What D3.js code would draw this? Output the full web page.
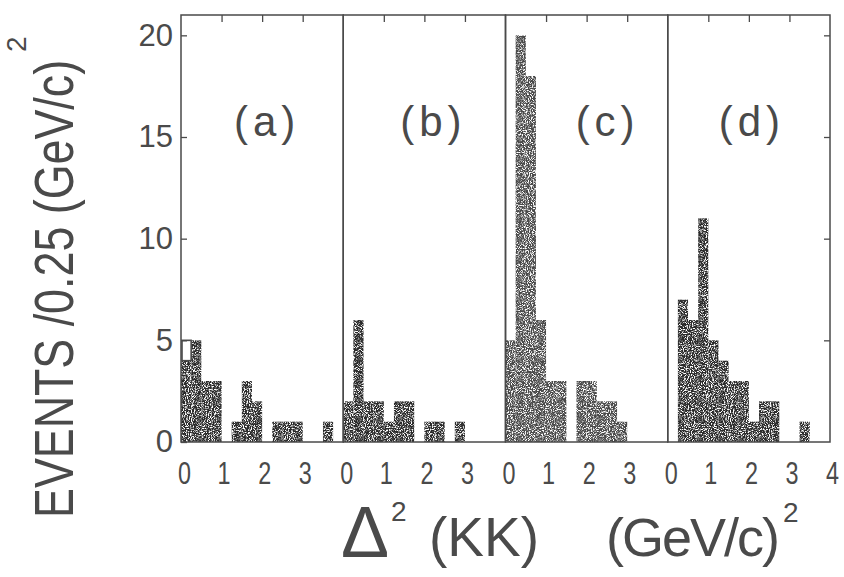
<!DOCTYPE html>
<html>
<head>
<meta charset="utf-8">
<script src="https://cdn.jsdelivr.net/npm/d3@7"></script>
<style>
  body { margin: 0; background: #fff; }
  svg { display: block; }
  text { font-family: "Liberation Sans", Arial, sans-serif; fill: #4a4a4a; }
</style>
</head>
<body>
<svg id="chart" width="844" height="577"></svg>
<script>
// -------------- DATA ----------------- //
// events per 0.25 (GeV/c)^2 bin, starting at 0
const panels = ["(a)", "(b)", "(c)", "(d)"];
const binWidth = 0.25;
const countsA = [4, 5, 3, 3, 0, 1, 3, 2, 0, 1, 1, 1, 0, 0, 1];
const countsB = [2, 6, 2, 2, 1, 2, 2, 0, 1, 1, 0, 1];
const countsC = [5, 20, 18, 6, 3, 3, 0, 3, 3, 2, 2, 1];
const countsD = [0, 7, 6, 11, 5, 4, 3, 3, 1, 2, 2, 0, 0, 1];
const openA = [1];  // unshaded entry drawn on top of the first bin of (a)
const yTicks = [0, 5, 10, 15, 20];
const xLabels = [[0, 1, 2, 3], [0, 1, 2, 3], [0, 1, 2, 3], [0, 1, 2, 3, 4]];

const allCounts = [countsA, countsB, countsC, countsD];
const allOpen = [openA, [], [], []];

// -------------- LAYOUT ----------------- //
const FRAME = { left: 181, right: 830, top: 15, bottom: 442 };
const labelShift = [5, 9, 21, 3];  // panel letters are not centred in the original
const INK = "#4a4a4a";

const svg = d3.select("#chart");

// stipple look of the printed shading
const defs = svg.append("defs");
const grain = defs.append("filter").attr("id", "grain");
grain.append("feTurbulence")
    .attr("type", "fractalNoise")
    .attr("baseFrequency", 0.95)
    .attr("numOctaves", 2)
    .attr("seed", 4)
    .attr("result", "noise");
grain.append("feColorMatrix")
    .attr("in", "noise")
    .attr("type", "matrix")
    .attr("values", "0 0 0 0 0  0 0 0 0 0  0 0 0 0 0  4.5 0 0 0 -1.45")
    .attr("result", "mask");
grain.append("feComposite")
    .attr("in", "SourceGraphic")
    .attr("in2", "mask")
    .attr("operator", "in");

const band = d3.scaleBand()
    .domain(panels)
    .range([FRAME.left, FRAME.right]);

const y = d3.scaleLinear()
    .domain([0, 21])
    .range([FRAME.bottom, FRAME.top]);

// -------------- PANELS ----------------- //
panels.forEach((name, p) => {
    const x0 = band(name);
    const x = d3.scaleLinear()
        .domain([0, 4])
        .range([x0, x0 + band.bandwidth()]);

    const bins = allCounts[p].map((v, i) => ({ lo: i * binWidth, hi: (i + 1) * binWidth, v }));

    svg.append("g")
        .attr("filter", "url(#grain)")
        .selectAll("rect")
        .data(bins.filter(d => d.v > 0))
        .join("rect")
        .attr("x", d => x(d.lo))
        .attr("width", d => x(d.hi) - x(d.lo))
        .attr("y", d => y(d.v))
        .attr("height", d => y(0) - y(d.v))
        .attr("fill", p == 2 ? "#4a4a4a" : "#2a2a2a");

    // open (unshaded) boxes
    svg.append("g")
        .selectAll("rect")
        .data(allOpen[p].map((v, i) => ({ lo: i * binWidth, hi: (i + 1) * binWidth, base: allCounts[p][i], v })).filter(d => d.v > 0))
        .join("rect")
        .attr("x", d => x(d.lo) + 1)
        .attr("width", d => x(d.hi) - x(d.lo) - 1)
        .attr("y", d => y(d.base + d.v))
        .attr("height", d => y(d.base) - y(d.base + d.v))
        .attr("fill", "none")
        .attr("stroke", INK)
        .attr("stroke-width", 1.6);

    // top ticks at integer values
    svg.append("g")
        .attr("transform", `translate(0,${FRAME.top})`)
        .call(d3.axisTop(x).tickValues([1, 2, 3]).tickSize(-7).tickFormat(""))
        .call(g => g.select(".domain").remove())
        .call(g => g.selectAll("line").attr("stroke", INK).attr("stroke-width", 1.3));

    // bottom labels (narrow hand-lettered digits)
    svg.append("g")
        .attr("transform", `translate(0,${FRAME.bottom})`)
        .call(d3.axisBottom(x).tickValues(xLabels[p]).tickSize(0).tickPadding(19).tickFormat(d3.format("d")))
        .call(g => g.select(".domain").remove())
        .call(g => g.selectAll("text")
            .attr("font-size", 32)
            .attr("fill", INK)
            .attr("textLength", 13)
            .attr("lengthAdjust", "spacingAndGlyphs")
            .attr("dx", d => (d == 0 ? 3 : 2)));

    svg.append("text")
        .attr("x", x0 + band.bandwidth() / 2 + labelShift[p])
        .attr("y", 136)
        .attr("text-anchor", "middle")
        .attr("font-size", 42)
        .attr("letter-spacing", 5)
        .text(name);

    // frame of this panel
    svg.append("rect")
        .attr("x", x0)
        .attr("y", FRAME.top)
        .attr("width", band.bandwidth())
        .attr("height", FRAME.bottom - FRAME.top)
        .attr("fill", "none")
        .attr("stroke", INK)
        .attr("stroke-width", 1.5);
});

// -------------- Y AXES ----------------- //
svg.append("g")
    .attr("transform", `translate(${FRAME.left},0)`)
    .call(d3.axisLeft(y).tickValues(yTicks).tickSize(-6).tickPadding(8))
    .call(g => g.select(".domain").remove())
    .call(g => g.selectAll("line").attr("stroke", INK).attr("stroke-width", 1.3))
    .call(g => g.selectAll("text").attr("font-size", 31).attr("fill", INK)
        .attr("font-family", "Liberation Sans, sans-serif"));

svg.append("g")
    .attr("transform", `translate(${FRAME.right},0)`)
    .call(d3.axisRight(y).tickValues(yTicks.slice(1)).tickSize(-6).tickFormat(""))
    .call(g => g.select(".domain").remove())
    .call(g => g.selectAll("line").attr("stroke", INK).attr("stroke-width", 1.3));

// -------------- TITLES ----------------- //
// squeezed along the text direction: the original lettering is narrow
svg.append("text")
    .attr("transform", "translate(73,518) rotate(-90) scale(0.8,1)")
    .attr("font-size", 56)
    .text("EVENTS /0.25 (GeV/c)");
svg.append("text")
    .attr("transform", "translate(26,52) rotate(-90)")
    .attr("font-size", 28)
    .text("2");

svg.append("text")
    .attr("x", 341)
    .attr("y", 557)
    .attr("font-size", 72)
    .text("\u0394");
svg.append("text")
    .attr("x", 391)
    .attr("y", 521)
    .attr("font-size", 28)
    .text("2");
svg.append("text")
    .attr("x", 429)
    .attr("y", 556)
    .attr("font-size", 55)
    .text("(KK)");
svg.append("text")
    .attr("x", 606)
    .attr("y", 556)
    .attr("font-size", 54)
    .attr("letter-spacing", -2)
    .text("(GeV/c)");
svg.append("text")
    .attr("x", 783)
    .attr("y", 522)
    .attr("font-size", 28)
    .text("2");
</script>
</body>
</html>
